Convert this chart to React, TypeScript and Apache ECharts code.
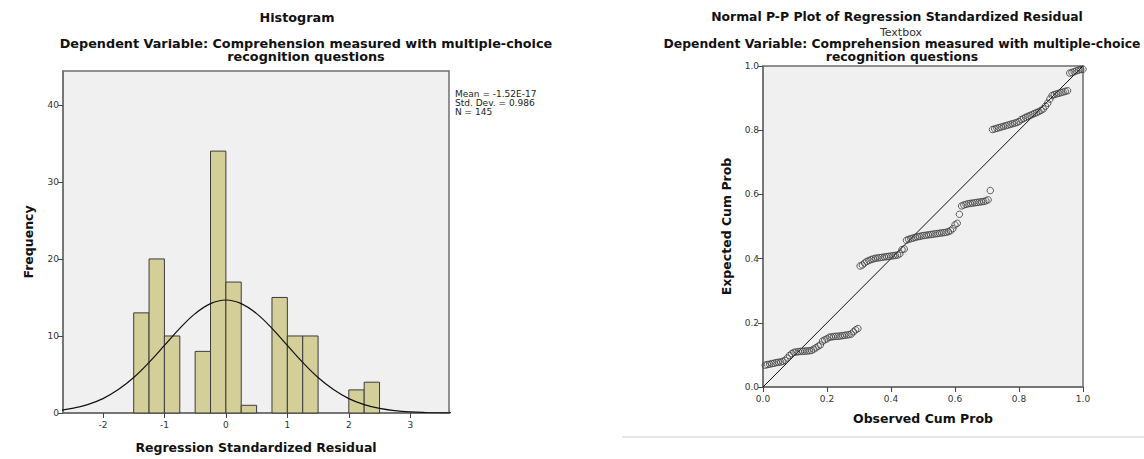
import React, { useEffect, useRef } from "react";
import * as echarts from "echarts";

// ---------- Histogram data ----------
const histBinStart = [-1.5, -1.25, -1.0, -0.75, -0.5, -0.25, 0, 0.25, 0.5, 0.75, 1.0, 1.25, 1.5, 1.75, 2.0, 2.25];
const histBinEnd = [-1.25, -1.0, -0.75, -0.5, -0.25, 0, 0.25, 0.5, 0.75, 1.0, 1.25, 1.5, 1.75, 2.0, 2.25, 2.5];
const histCounts = [13, 20, 10, 0, 8, 34, 17, 1, 0, 15, 10, 10, 0, 0, 3, 4];

// Normal curve (x, frequency)
const curveX = [-2.75, -2.5, -2.25, -2.0, -1.75, -1.5, -1.25, -1.0, -0.75, -0.5, -0.25, 0, 0.25, 0.5, 0.75, 1.0, 1.25, 1.5, 1.75, 2.0, 2.25, 2.5, 2.75, 3.0, 3.25, 3.5, 3.75];
const curveY = [0.30, 0.59, 1.09, 1.87, 3.04, 4.61, 6.57, 8.77, 10.99, 12.90, 14.20, 14.67, 14.20, 12.90, 10.99, 8.77, 6.57, 4.61, 3.04, 1.87, 1.09, 0.59, 0.30, 0.14, 0.064, 0.027, 0.011];

const histXTicks = [-2, -1, 0, 1, 2, 3];
const histYTicks = [0, 10, 20, 30, 40];
const statsLines = ["Mean = -1.52E-17", "Std. Dev. = 0.986", "N = 145"];

// ---------- P-P plot data ----------
const ppN = 145;
const ppExpected = [
  0.068, 0.070, 0.071, 0.073, 0.074, 0.076, 0.077, 0.078, 0.080, 0.083, 0.090, 0.098, 0.104,
  0.108, 0.109, 0.110, 0.111, 0.111, 0.112, 0.112, 0.113, 0.114,
  0.118, 0.122, 0.127, 0.131,
  0.143, 0.147, 0.150,
  0.155, 0.156, 0.157, 0.158, 0.158, 0.159, 0.160, 0.161, 0.162, 0.163, 0.165,
  0.172, 0.178, 0.182,
  0.377, 0.380, 0.386, 0.391, 0.394, 0.397, 0.399, 0.401,
  0.402, 0.403, 0.404, 0.405, 0.406, 0.407, 0.408, 0.409, 0.410, 0.411,
  0.415, 0.428, 0.430,
  0.457, 0.460, 0.462, 0.464, 0.466, 0.468, 0.469, 0.471, 0.472, 0.473, 0.474, 0.475, 0.476, 0.477, 0.478, 0.479, 0.480, 0.481, 0.482, 0.484, 0.487,
  0.493, 0.505, 0.510, 0.538,
  0.564, 0.567, 0.569, 0.571, 0.572, 0.573, 0.574, 0.575, 0.576, 0.577, 0.578, 0.580, 0.583,
  0.612,
  0.802, 0.804, 0.806, 0.808, 0.810, 0.812, 0.814, 0.816, 0.818, 0.820, 0.822, 0.824, 0.827,
  0.833, 0.836, 0.840, 0.843, 0.846, 0.849, 0.852, 0.855, 0.858, 0.862, 0.866,
  0.875, 0.884, 0.897,
  0.908, 0.911, 0.913, 0.915, 0.917, 0.919, 0.921, 0.923,
  0.978, 0.980, 0.982, 0.985, 0.987, 0.989, 0.990,
];
const ppRefLine = [[0, 0], [1, 1]];

const FONT = "DejaVu Sans";
const AXIS_COLOR = "#6e6e6e";
const LABEL_COLOR = "#333";
const TITLE_FONT = `bold 12.8px "${FONT}"`;
const TITLE_FONT_R = `bold 12.4px "${FONT}"`;

export default function App() {
  const ref = useRef<HTMLDivElement>(null);

  useEffect(() => {
    if (!ref.current) return;
    const chart = echarts.init(ref.current, undefined, { renderer: "svg" });

    const histData = histBinStart.map((s, i) => [s, histBinEnd[i], histCounts[i]]);
    const curveData = curveX.map((x, i) => [x, curveY[i]]);
    const ppData = ppExpected.map((y, i) => [(i + 1) / ppN, y]);

    const axisCommon = {
      axisLine: { show: true, onZero: false, lineStyle: { color: AXIS_COLOR, width: 1.5 } },
      axisTick: { show: true, length: 5, lineStyle: { color: "#444", width: 1 } },
      splitLine: { show: false },
      nameTextStyle: { fontFamily: FONT, fontWeight: "bold", fontSize: 12.5, color: "#111" },
    };

    const option: any = {
      animation: false,
      backgroundColor: "#ffffff",
      textStyle: { fontFamily: FONT },
      grid: [
        { left: 63, top: 71, width: 386, height: 342, show: true, backgroundColor: "#f0f0f0", borderColor: AXIS_COLOR, borderWidth: 1.5 },
        { left: 763, top: 66, width: 320, height: 321, show: true, backgroundColor: "#f0f0f0", borderColor: AXIS_COLOR, borderWidth: 1.5 },
      ],
      xAxis: [
        {
          ...axisCommon,
          type: "value",
          gridIndex: 0,
          min: -2.65,
          max: 3.63,
          name: "Regression Standardized Residual",
          nameLocation: "middle",
          nameGap: 28,
          axisTick: { ...axisCommon.axisTick, customValues: histXTicks },
          axisLabel: { customValues: histXTicks, fontFamily: FONT, fontSize: 9, color: LABEL_COLOR, margin: 7 },
        },
        {
          ...axisCommon,
          type: "value",
          gridIndex: 1,
          min: 0,
          max: 1,
          interval: 0.2,
          name: "Observed Cum Prob",
          nameLocation: "middle",
          nameGap: 25,
          axisLabel: { fontFamily: FONT, fontSize: 9, color: LABEL_COLOR, margin: 7, formatter: (v: number) => v.toFixed(1) },
        },
      ],
      yAxis: [
        {
          ...axisCommon,
          type: "value",
          gridIndex: 0,
          min: 0,
          max: 44.4,
          name: "Frequency",
          nameLocation: "middle",
          nameGap: 28,
          axisTick: { ...axisCommon.axisTick, customValues: histYTicks },
          axisLabel: { customValues: histYTicks, fontFamily: FONT, fontSize: 9, color: LABEL_COLOR, margin: 4 },
        },
        {
          ...axisCommon,
          type: "value",
          gridIndex: 1,
          min: 0,
          max: 1,
          interval: 0.2,
          name: "Expected Cum Prob",
          nameLocation: "middle",
          nameGap: 30,
          axisLabel: { fontFamily: FONT, fontSize: 9, color: LABEL_COLOR, margin: 4, formatter: (v: number) => v.toFixed(1) },
        },
      ],
      series: [
        {
          type: "custom",
          xAxisIndex: 0,
          yAxisIndex: 0,
          z: 2,
          data: histData,
          encode: { x: [0, 1], y: 2 },
          renderItem: (params: any, api: any) => {
            const c = api.value(2);
            if (!c) return null;
            const p0 = api.coord([api.value(0), 0]);
            const p1 = api.coord([api.value(1), c]);
            return {
              type: "rect",
              shape: { x: p0[0], y: p1[1], width: p1[0] - p0[0], height: p0[1] - p1[1] },
              style: { fill: "#d4cf98", stroke: "#3c3c3c", lineWidth: 1 },
            };
          },
        },
        {
          type: "line",
          xAxisIndex: 0,
          yAxisIndex: 0,
          z: 3,
          data: curveData,
          smooth: 0.4,
          showSymbol: false,
          clip: true,
          lineStyle: { color: "#111", width: 1.2 },
        },
        {
          type: "line",
          xAxisIndex: 1,
          yAxisIndex: 1,
          z: 2,
          data: ppRefLine,
          showSymbol: false,
          lineStyle: { color: "#111", width: 1 },
        },
        {
          type: "scatter",
          xAxisIndex: 1,
          yAxisIndex: 1,
          z: 3,
          data: ppData,
          symbol: "circle",
          symbolSize: 6.5,
          itemStyle: { color: "rgba(0,0,0,0)", borderColor: "#3a3a3a", borderWidth: 1 },
        },
      ],
      graphic: [
        { type: "text", x: 297, y: 17, style: { text: "Histogram", font: TITLE_FONT, fill: "#111", textAlign: "center", textVerticalAlign: "middle" } },
        { type: "text", x: 306, y: 43, style: { text: "Dependent Variable: Comprehension measured with multiple-choice", font: TITLE_FONT, fill: "#111", textAlign: "center", textVerticalAlign: "middle" } },
        { type: "text", x: 306, y: 56, style: { text: "recognition questions", font: TITLE_FONT, fill: "#111", textAlign: "center", textVerticalAlign: "middle" } },
        ...statsLines.map((t, i) => ({ type: "text", x: 455, y: 94 + i * 9, style: { text: t, font: `9px "${FONT}"`, fill: "#222", textAlign: "left", textVerticalAlign: "middle" } })),
        { type: "text", x: 897, y: 16, style: { text: "Normal P-P Plot of Regression Standardized Residual", font: TITLE_FONT_R, fill: "#111", textAlign: "center", textVerticalAlign: "middle" } },
        { type: "text", x: 901, y: 32, style: { text: "Textbox", font: `11px "${FONT}"`, fill: "#333", textAlign: "center", textVerticalAlign: "middle" } },
        { type: "text", x: 902, y: 43, style: { text: "Dependent Variable: Comprehension measured with multiple-choice", font: TITLE_FONT_R, fill: "#111", textAlign: "center", textVerticalAlign: "middle" } },
        { type: "text", x: 902, y: 56, style: { text: "recognition questions", font: TITLE_FONT_R, fill: "#111", textAlign: "center", textVerticalAlign: "middle" } },
        { type: "line", shape: { x1: 622, y1: 437, x2: 1144, y2: 437 }, style: { stroke: "#cccccc", lineWidth: 1 } },
      ],
    };

    chart.setOption(option);
    return () => chart.dispose();
  }, []);

  return <div ref={ref} style={{ position: "absolute", left: 0, top: 0, width: 1144, height: 459 }} />;
}
